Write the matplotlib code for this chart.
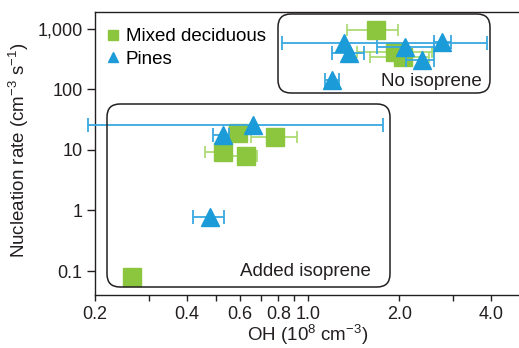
import matplotlib
matplotlib.use("Agg")
from matplotlib import pyplot as plt
from matplotlib.patches import FancyBboxPatch
from matplotlib.ticker import FixedLocator, FixedFormatter, NullLocator

plt.rcParams['font.family'] = ['Liberation Sans', 'DejaVu Sans']
plt.rcParams['mathtext.fontset'] = 'custom'
plt.rcParams['mathtext.rm'] = 'Liberation Sans'
plt.rcParams['mathtext.it'] = 'Liberation Sans'

# Mixed deciduous (green squares)
mixed_x = [1.68, 1.93, 2.05, 0.59, 0.78, 0.525, 0.626, 0.264]
mixed_y = [950, 420, 345, 19, 16.4, 9.2, 7.9, 0.079]
mixed_xlo = [1.35, 1.45, 1.6, 0.55, 0.65, 0.46, 0.56, 0.255]
mixed_xhi = [1.98, 2.55, 2.5, 0.62, 0.92, 0.56, 0.68, 0.28]

# Pines (blue triangles)
pines_x = [1.32, 1.37, 2.08, 2.37, 2.77, 1.2, 0.525, 0.66, 0.476]
pines_y = [590, 400, 505, 310, 610, 145, 17.7, 26, 0.78]
pines_xlo = [0.82, 1.2, 1.69, 2.1, 2.6, 1.14, 0.49, 0.19, 0.42]
pines_xhi = [3.87, 1.53, 2.6, 2.6, 2.95, 1.27, 0.55, 1.76, 0.53]

xticks = [0.2, 0.3, 0.4, 0.5, 0.6, 0.7, 0.8, 0.9, 1.0, 2.0, 3.0, 4.0]
xlabels = ['0.2', '', '0.4', '', '0.6', '', '0.8', '', '1.0', '2.0', '', '4.0']
yticks = [0.1, 1, 10, 100, 1000]
ylabels = ['0.1', '1', '10', '100', '1,000']

green = '#8cc63f'
green_err = '#addb74'
blue = '#1b9bd7'
blue_err = '#3aa8e0'
ink = '#231f20'
fs = 13.5

fig = plt.figure(figsize=(5.19, 3.48), dpi=100)
ax = fig.add_axes([0.183, 0.152, 0.82, 0.814])
ax.set_xscale('log')
ax.set_yscale('log')

mxerr = [[x - lo for x, lo in zip(mixed_x, mixed_xlo)],
         [hi - x for x, hi in zip(mixed_x, mixed_xhi)]]
ax.errorbar(mixed_x, mixed_y, xerr=mxerr, fmt='none', ecolor=green_err,
            elinewidth=1.3, capsize=4, capthick=1.3, zorder=2)
ax.plot(mixed_x, mixed_y, 's', color=green, markersize=13.5, zorder=3,
        label='Mixed deciduous')

pxerr = [[x - lo for x, lo in zip(pines_x, pines_xlo)],
         [hi - x for x, hi in zip(pines_x, pines_xhi)]]
eb = ax.errorbar(pines_x, pines_y, xerr=pxerr, fmt='none', ecolor=blue_err,
                 elinewidth=1.3, capsize=5, capthick=1.3, zorder=4)
for art in list(eb.lines[1]) + list(eb.lines[2]):
    art.set_clip_on(False)
ax.plot(pines_x, pines_y, '^', color=blue, markersize=13.5, zorder=5,
        label='Pines')

ax.set_xlim(0.2, 5.0)
ax.set_ylim(0.04, 1900)
ax.xaxis.set_major_locator(FixedLocator(xticks))
ax.xaxis.set_major_formatter(FixedFormatter(xlabels))
ax.xaxis.set_minor_locator(NullLocator())
ax.yaxis.set_major_locator(FixedLocator(yticks))
ax.yaxis.set_major_formatter(FixedFormatter(ylabels))
ax.yaxis.set_minor_locator(NullLocator())
ax.tick_params(direction='out', width=1, labelsize=13, colors=ink)
ax.tick_params(axis='x', length=4, pad=4)
ax.tick_params(axis='y', length=6, pad=3)
for s in ax.spines.values():
    s.set_color(ink)
    s.set_linewidth(1)

ax.set_xlabel(r'OH (10$^{8}$ cm$^{-3}$)', fontsize=fs, color=ink, va='baseline')
ax.xaxis.set_label_coords(0.5, -0.163)
ax.set_ylabel(r'Nucleation rate (cm$^{-3}$ s$^{-1}$)', fontsize=fs, color=ink,
              va='baseline')
ax.yaxis.set_label_coords(-0.165, 0.51)

leg = ax.legend(loc='upper left', frameon=False, fontsize=fs, handlelength=0.7,
                handletextpad=0.35, borderaxespad=0.2, labelspacing=0.3,
                markerscale=0.55, bbox_to_anchor=(0.0, 0.982))

# rounded group boxes, placed in figure inches
def rbox(x0, y0, x1, y1):
    p = FancyBboxPatch((x0 / 100, (348 - y1) / 100), (x1 - x0) / 100, (y1 - y0) / 100,
                       boxstyle='round,pad=0,rounding_size=0.13',
                       transform=fig.dpi_scale_trans, fill=False,
                       edgecolor=ink, linewidth=1.1, zorder=1)
    fig.add_artist(p)

rbox(278, 14, 490, 93)
rbox(107, 104, 390, 287)
fig.text(4.31 / 5.19, (348 - 82) / 348, 'No isoprene', fontsize=fs,
         color=ink, ha='center', va='center')
fig.text(3.05 / 5.19, (348 - 271) / 348, 'Added isoprene', fontsize=fs,
         color=ink, ha='center', va='center')

fig.savefig('out.png', dpi=100)
